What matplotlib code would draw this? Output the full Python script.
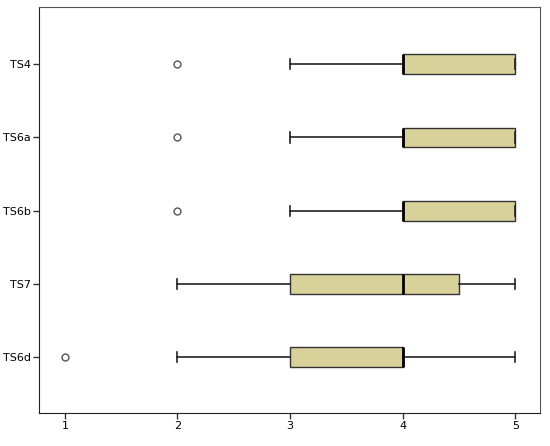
import matplotlib
matplotlib.use("Agg")
import matplotlib.pyplot as plt

# box plot summaries (bottom to top)
labels = ["TS6d", "TS7", "TS6b", "TS6a", "TS4"]
whislo = [2, 2, 3, 3, 3]
q1 = [3, 3, 4, 4, 4]
med = [4, 4, 4, 4, 4]
q3 = [4, 4.5, 5, 5, 5]
whishi = [5, 5, 5, 5, 5]
fliers = [[1], [], [2], [2], [2]]

stats = []
for i in range(len(labels)):
    stats.append(dict(label=labels[i], whislo=whislo[i], q1=q1[i], med=med[i],
                      q3=q3[i], whishi=whishi[i], fliers=fliers[i]))

fig = plt.figure(figsize=(5.5, 4.46), dpi=100)
ax = fig.add_axes([39 / 550, 1 - 413 / 446, (540 - 39) / 550, (413 - 7) / 446])

ax.bxp(stats, positions=range(1, 6), vert=False, widths=0.27, patch_artist=True,
       boxprops=dict(facecolor="#d8d29a", edgecolor="#333333", linewidth=1.0),
       medianprops=dict(color="black", linewidth=2.0),
       whiskerprops=dict(color="#222222", linewidth=1.2),
       capprops=dict(color="#222222", linewidth=1.2),
       capwidths=0.14,
       flierprops=dict(marker="o", markerfacecolor="white", markeredgecolor="#555555",
                       markersize=5, markeredgewidth=1.0))

ax.set_xlim(0.77, 5.22)
ax.set_ylim(0.24, 5.78)
ax.set_xticks([1, 2, 3, 4, 5])
ax.set_xticklabels(["1", "2", "3", "4", "5"])
ax.set_yticks(range(1, 6))
ax.set_yticklabels(labels)
ax.tick_params(labelsize=8, length=4, pad=2, color="#333333", width=1)
for s in ax.spines.values():
    s.set_color("#555555")
for s in ["left", "bottom"]:
    ax.spines[s].set_color("#222222")

fig.savefig("out.png", dpi=100)
